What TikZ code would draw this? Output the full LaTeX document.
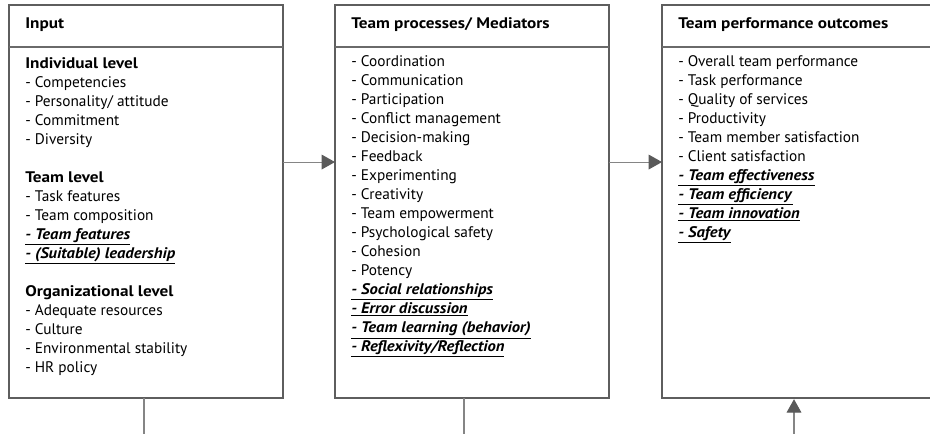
\documentclass[tikz,border=0pt]{standalone}
\usepackage{fontspec}
\setmainfont{PT Sans}[BoldFeatures={FakeStretch=1.12},BoldItalicFeatures={FakeStretch=1.08}]
\usetikzlibrary{positioning,arrows.meta}
\definecolor{boxgray}{HTML}{5E5E5E}
\definecolor{rulegray}{HTML}{6A6A6A}
\definecolor{linkgray}{HTML}{858585}
\definecolor{tipgray}{HTML}{5A5A5A}
\newcommand{\keyitem}[1]{\underline{\textbf{\textit{#1}}}}
\begin{document}
\begin{tikzpicture}[x=0.75pt,y=0.75pt,
  font=\fontsize{11.5}{14.25}\selectfont,
  column/.style={draw=boxgray, line width=1.8pt, minimum width=205.5pt, minimum height=294.75pt, inner sep=0pt, outer sep=0pt},
  heading/.style={anchor=base west, inner sep=0pt, font=\fontsize{11.5}{14.25}\selectfont\bfseries},
  listing/.style={anchor=north west, inner sep=0pt, align=left},
  rule/.style={draw=rulegray, line width=0.8pt},
  link/.style={draw=linkgray, line width=0.8pt},
  flow/.style={link, -{Triangle[length=10pt, width=11pt, color=tipgray]}}]
\useasboundingbox (0,0) rectangle (930,-433);
\clip (0,0) rectangle (930,-433);
\node[column, anchor=north west] (input) at (9,-5) {};
\node[column, right=39pt of input] (process) {};
\node[column, right=39.75pt of process] (outcome) {};
\foreach \col in {input,process,outcome}
  \draw[rule] ([yshift=-31.5pt]\col.north west) -- ([yshift=-31.5pt]\col.north east);
\node[heading] (inputhead) at ([xshift=12pt,yshift=-17.25pt]input.north west) {Input};
\node[heading] (processhead) at ([xshift=12pt,yshift=-17.25pt]process.north west) {Team processes/ Mediators};
\node[heading] (outcomehead) at ([xshift=12pt,yshift=-17.25pt]outcome.north west) {Team performance outcomes};
\node[listing] (inputlist) at ([xshift=12pt,yshift=-37.25pt]input.north west) {%
  \rule{0pt}{10pt}\textbf{Individual level}\\
  - Competencies\\
  - Personality/ attitude\\
  - Commitment\\
  - Diversity\\[14.25pt]
  \textbf{Team level}\\
  - Task features\\
  - Team composition\\
  \keyitem{- Team features}\\
  \keyitem{- (Suitable) leadership}\\[14.25pt]
  \textbf{Organizational level}\\
  - Adequate resources\\
  - Culture\\
  - Environmental stability\\
  - HR policy};
\node[listing] (processlist) at ([xshift=12pt,yshift=-36pt]process.north west) {%
  \rule{0pt}{10pt}- Coordination\\
  - Communication\\
  - Participation\\
  - Conflict management\\
  - Decision-making\\
  - Feedback\\
  - Experimenting\\
  - Creativity\\
  - Team empowerment\\
  - Psychological safety\\
  - Cohesion\\
  - Potency\\
  \keyitem{- Social relationships}\\
  \keyitem{- Error discussion}\\
  \keyitem{- Team learning (behavior)}\\
  \keyitem{- Reflexivity/Reflection}};
\node[listing] (outcomelist) at ([xshift=12pt,yshift=-36pt]outcome.north west) {%
  \rule{0pt}{10pt}- Overall team performance\\
  - Task performance\\
  - Quality of services\\
  - Productivity\\
  - Team member satisfaction\\
  - Client satisfaction\\
  \keyitem{- Team effectiveness}\\
  \keyitem{- Team efficiency}\\
  \keyitem{- Team innovation}\\
  \keyitem{- Safety}};
\draw[flow] ([yshift=29.6pt]input.east) -- ([yshift=29.6pt]process.west);
\draw[flow] ([yshift=29.6pt]process.east) -- ([yshift=29.6pt]outcome.west);
\coordinate (inputfoot) at ([xshift=-1.5pt,yshift=-40pt]input.south);
\coordinate (processfoot) at ([xshift=-6pt,yshift=-40pt]process.south);
\coordinate (outcomefoot) at ([xshift=-3.75pt,yshift=-40pt]outcome.south);
\draw[link] ([xshift=-1.5pt]input.south) -- (inputfoot);
\draw[link] ([xshift=-6pt]process.south) -- (processfoot);
\draw[flow] (outcomefoot) -- ([xshift=-3.75pt,yshift=-0.9pt]outcome.south);
\end{tikzpicture}
\end{document}
